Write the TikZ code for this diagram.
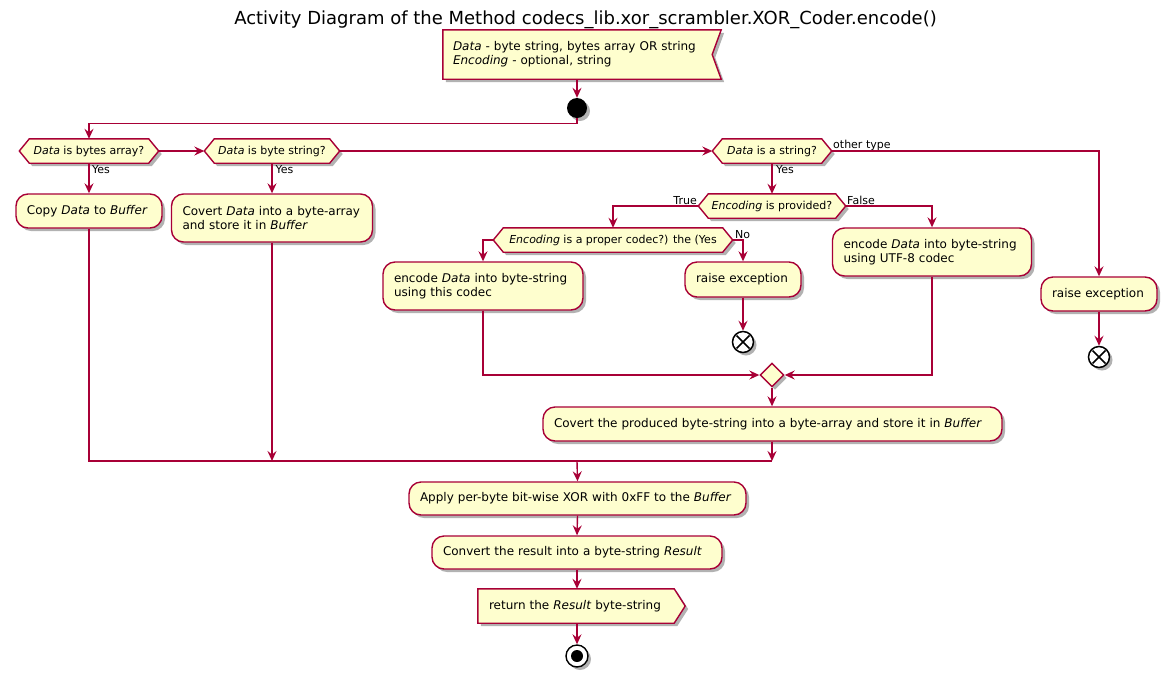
\documentclass[tikz,border=0pt]{standalone}
\usepackage{fontspec}
\setmainfont{DejaVu Sans}
\usetikzlibrary{shadows,arrows.meta,backgrounds,calc,shapes.geometric}
\definecolor{bord}{HTML}{A80036}
\definecolor{actfill}{HTML}{FEFECE}
\newcommand{\hexbg}[1]{\path[hexs] (#1.west) -- ([xshift=10pt]#1.north west) -- ([xshift=-10pt]#1.north east) -- (#1.east) -- ([xshift=-10pt]#1.south east) -- ([xshift=10pt]#1.south west) -- cycle;}
\tikzset{
  shad/.style={drop shadow={shadow xshift=3pt,shadow yshift=-3pt,opacity=0.3,fill=black}},
  act/.style={draw=bord, fill=actfill, line width=1.4pt, rounded corners=12pt, shad,
    font=\fontsize{12}{14}\selectfont, inner xsep=11pt, inner ysep=0pt, align=left},
  dec/.style={font=\fontsize{11}{13}\selectfont, minimum height=24pt, inner sep=0pt},
  hexs/.style={draw=bord, fill=actfill, line width=1.4pt, shad},
  lbl/.style={font=\fontsize{11}{13}\selectfont, inner sep=0pt},
  flow/.style={draw=bord, line width=1.4pt, -{Stealth[length=10pt,width=9pt,inset=3.5pt]}},
  plain/.style={draw=bord, line width=1.4pt},
  plate/.style={font=\fontsize{12}{14}\selectfont, inner xsep=10pt, inner ysep=0pt, align=left},
  endx/.style={circle, draw=black, fill=white, line width=1.5pt, minimum size=21pt, inner sep=0pt, shad},
}
\begin{document}
\begin{tikzpicture}[x=1pt,y=-1pt]
\useasboundingbox (0,0) rectangle (1173,681);
\node[font=\fontsize{18}{22}\selectfont, inner sep=0pt] (title) at (585.5,20) {Activity Diagram of the Method codecs\_lib.xor\_scrambler.XOR\_Coder.encode()};

% input note
\node[plate, minimum width=278pt, minimum height=49pt, text width=258pt] (note) at (582,54.5)
  {\mbox{\textit{Data} - byte string, bytes array OR string}\\\mbox{\textit{Encoding} - optional, string}};
\begin{scope}[on background layer]
\path[hexs] (note.north west) -- (note.north east) -- ([xshift=-9pt]note.east) -- (note.south east) -- (note.south west) -- cycle;
\end{scope}

\node[circle, fill=black, minimum size=20pt, inner sep=0pt, shad] (start) at (577,108) {};

% decisions
\node[dec, minimum width=139pt] (d1) at (89,151) {\textit{Data} is bytes array?};
\node[dec, minimum width=135pt] (d2) at (272,151) {\textit{Data} is byte string?};
\node[dec, minimum width=119pt] (d3) at (772,151) {\textit{Data} is a string?};
\node[dec, minimum width=147pt] (d4) at (772,206) {\textit{Encoding} is provided?};
\node[dec, minimum width=239pt] (d5) at (613,240) {\textit{Encoding} is a proper codec?) the (Yes};
\begin{scope}[on background layer]
\hexbg{d1}\hexbg{d2}\hexbg{d3}\hexbg{d4}\hexbg{d5}
\end{scope}

% activities
\node[act, minimum height=34pt, text width=124pt] (copy) at (89,211) {\mbox{Copy \textit{Data} to \textit{Buffer}}};
\node[act, minimum height=48pt, text width=179pt] (covert) at (272,218) {\mbox{Covert \textit{Data} into a byte-array}\\\mbox{and store it in \textit{Buffer}}};
\node[act, minimum height=48pt, text width=178pt] (enc) at (483,286) {\mbox{encode \textit{Data} into byte-string}\\\mbox{using this codec}};
\node[act, minimum height=35pt, text width=94pt] (rx1) at (743,279.5) {\mbox{raise exception}};
\node[act, minimum height=48pt, text width=177pt] (utf) at (932,252) {\mbox{encode \textit{Data} into byte-string}\\\mbox{using UTF-8 codec}};
\node[act, minimum height=34pt, text width=94pt] (rx2) at (1099,294) {\mbox{raise exception}};
\node[endx] (e1) at (743,342) {};
\node[endx] (e2) at (1099,357) {};
\draw[line width=1.6pt] ($(e1.center)+(-6.5,-6.5)$) -- ($(e1.center)+(6.5,6.5)$) ($(e1.center)+(-6.5,6.5)$) -- ($(e1.center)+(6.5,-6.5)$);
\draw[line width=1.6pt] ($(e2.center)+(-6.5,-6.5)$) -- ($(e2.center)+(6.5,6.5)$) ($(e2.center)+(-6.5,6.5)$) -- ($(e2.center)+(6.5,-6.5)$);
\node[diamond, draw=bord, fill=actfill, line width=1.4pt, minimum width=24pt, minimum height=24pt, inner sep=0pt, shad] (merge) at (772,375) {};
\node[act, minimum height=34pt, text width=437pt] (prod) at (772.5,424) {\mbox{Covert the produced byte-string into a byte-array and store it in \textit{Buffer}}};
\coordinate (jn) at (577,461);
\node[act, minimum height=33pt, text width=315pt] (apply) at (577.5,498.5) {\mbox{Apply per-byte bit-wise XOR with 0xFF to the \textit{Buffer}}};
\node[act, minimum height=33pt, text width=268pt] (conv) at (577,552.5) {\mbox{Convert the result into a byte-string \textit{Result}}};
\node[plate, inner xsep=11pt, minimum width=207pt, minimum height=34pt, text width=185pt] (ret) at (581.5,606) {\mbox{return the \textit{Result} byte-string}};
\begin{scope}[on background layer]
\path[hexs] (ret.north west) -- ([xshift=-11pt]ret.north east) -- (ret.east) -- ([xshift=-11pt]ret.south east) -- (ret.south west) -- cycle;
\end{scope}
\node[circle, draw=black, fill=white, line width=1.4pt, minimum size=22pt, inner sep=0pt, shad] (stop) at (577,656) {};
\fill[black] (stop.center) circle (6pt);

% labels
\node[lbl, anchor=base west] (l1) at (92,173) {Yes};
\node[lbl, anchor=base west] (l2) at (275.5,173) {Yes};
\node[lbl, anchor=base west] (l3) at (776,173) {Yes};
\node[lbl, anchor=base west] (l4) at (833,148) {other type};
\node[lbl, anchor=base east] (l5) at (697,204) {True};
\node[lbl, anchor=base west] (l6) at (847,204) {False};
\node[lbl, anchor=base west] (l7) at (735,238) {No};

% connectors
\draw[flow] (start.north |- note.south) -- (start.north);
\draw[flow] (start.south) -- ++(0,5) -| (d1.north);
\draw[flow] (d1.east) -- (d2.west);
\draw[flow] (d2.east) -- (d3.west);
\draw[flow] (d3.east) -| (rx2.north);
\draw[flow] (d1.south) -- (copy.north);
\draw[flow] (d2.south) -- (covert.north);
\draw[flow] (d3.south) -- (d4.north);
\draw[flow] (d4.west) -| (d5.north);
\draw[flow] (d4.east) -| (utf.north);
\draw[flow] (d5.west) -| (enc.north);
\draw[flow] (d5.east) -| (rx1.north);
\draw[flow] (rx1.south) -- (e1.north);
\draw[flow] (rx2.south) -- (e2.north);
\draw[flow] (enc.south) |- (merge.west);
\draw[flow] (utf.south) |- (merge.east);
\draw[flow] (merge.south) -- (merge.south |- prod.north);
\draw[flow] (prod.south -| merge.south) -- (merge.south |- jn);
\draw[flow] (covert.south) -- (covert.south |- jn);
\draw[plain] (copy.south) |- (merge.south |- jn);
\draw[flow] (jn) -- (apply.north);
\draw[flow] (apply.south) -- (conv.north);
\draw[flow] (conv.south) -- (conv.south |- ret.north);
\draw[flow] (stop.north |- ret.south) -- (stop.north);
\end{tikzpicture}
\end{document}
